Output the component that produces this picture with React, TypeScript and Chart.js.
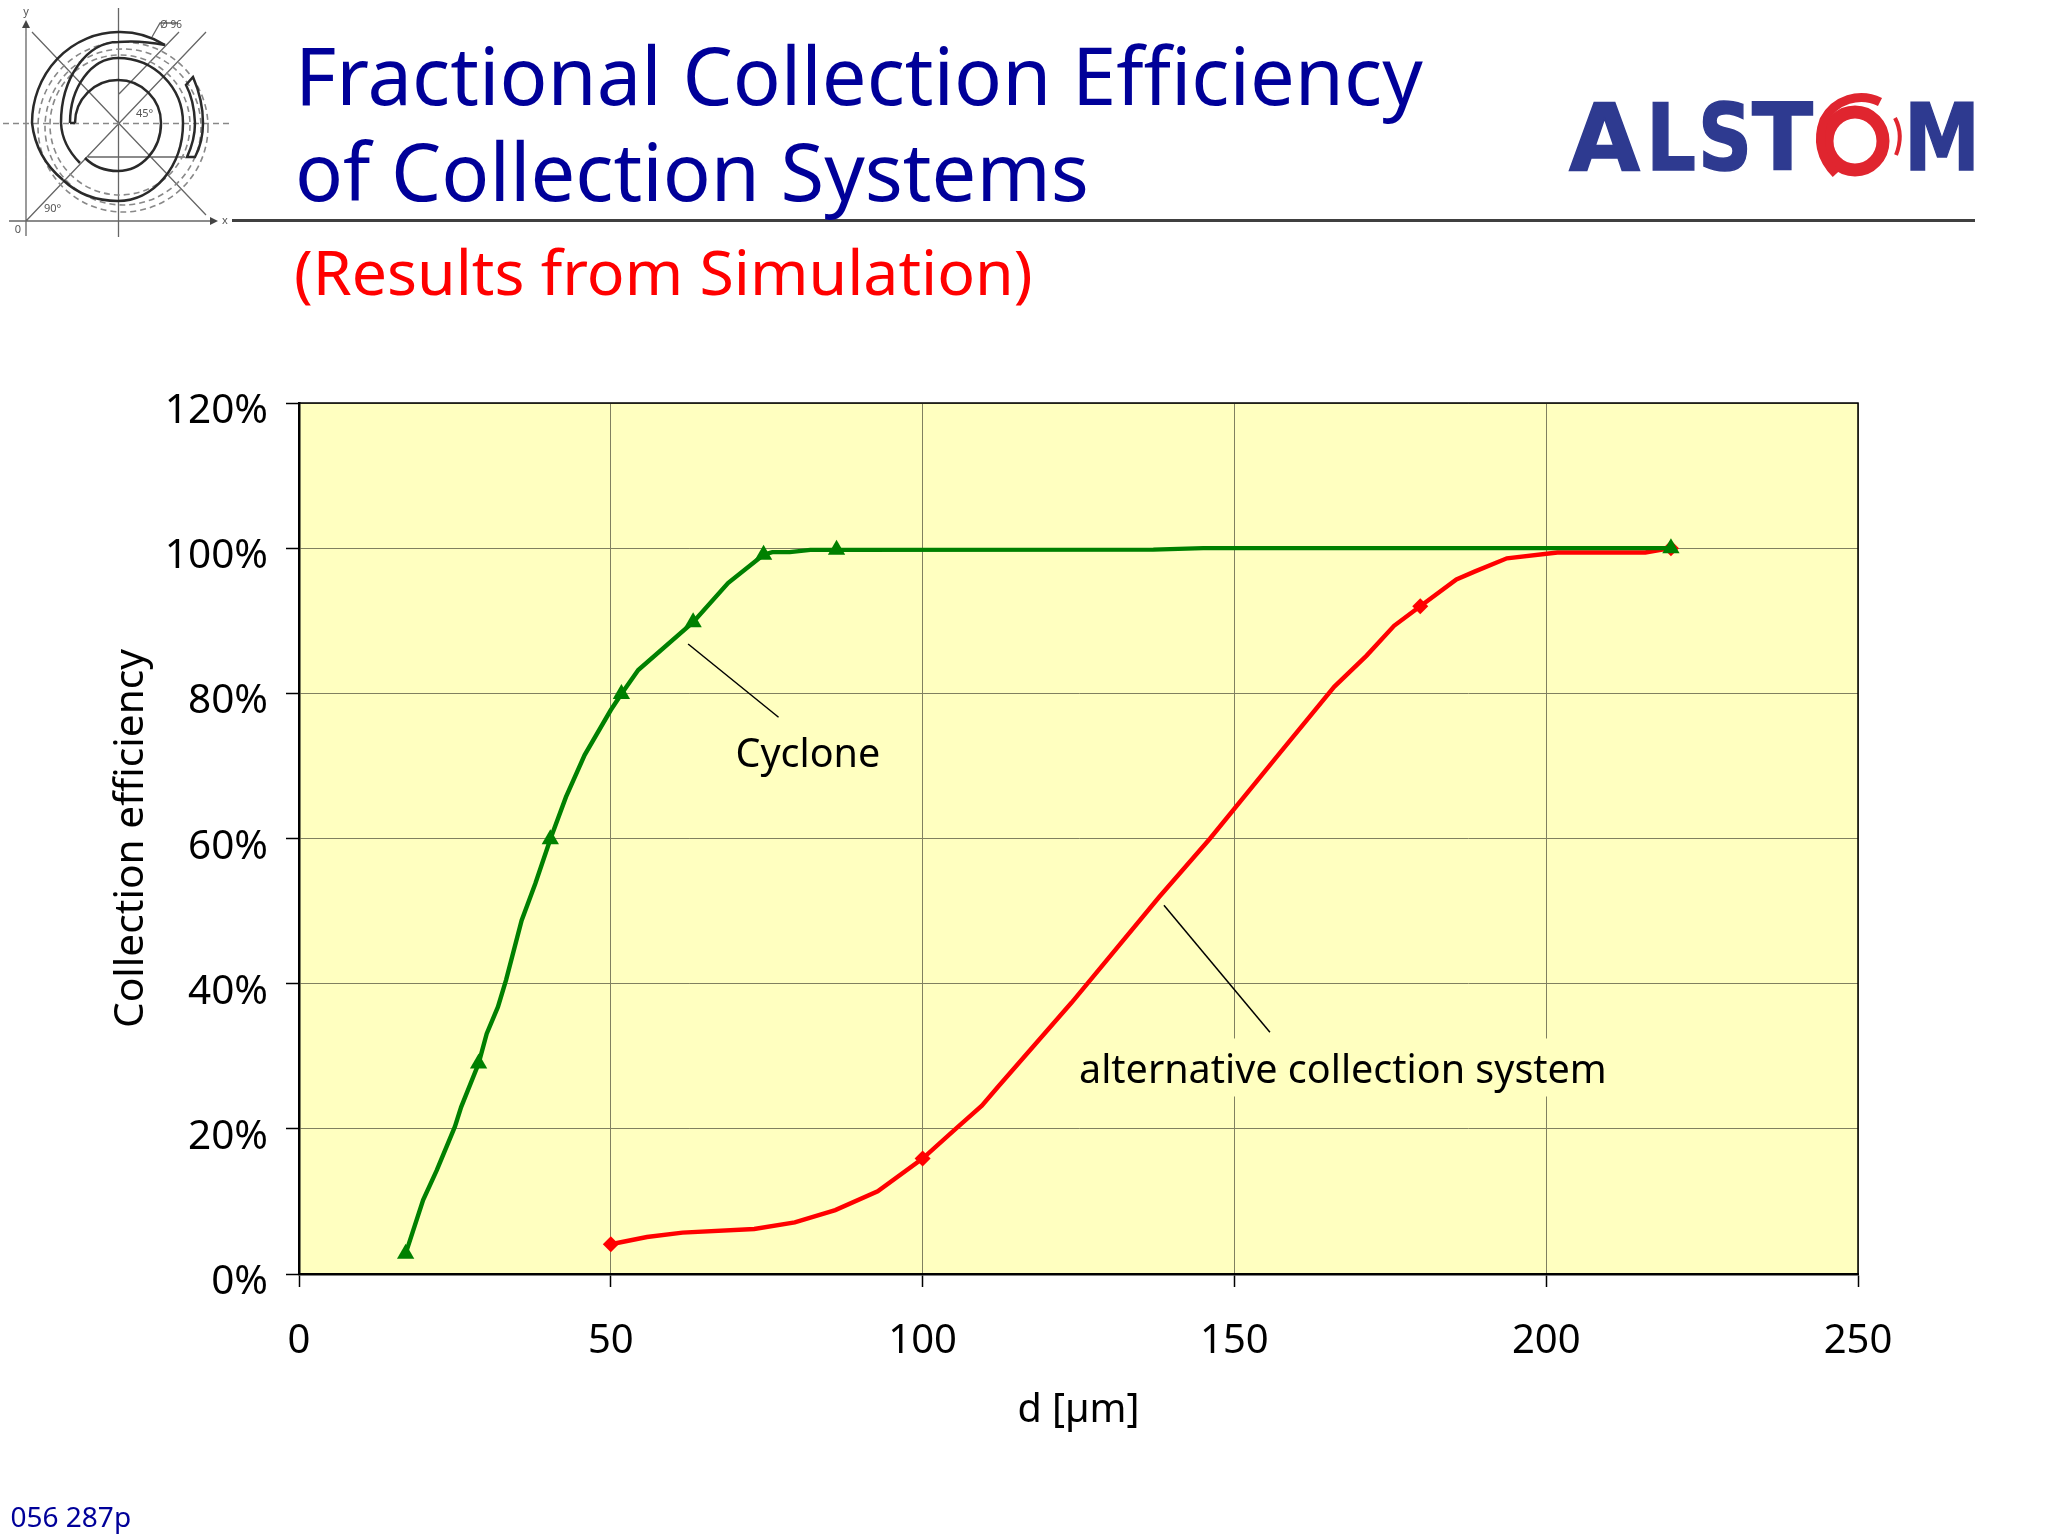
import React, { useEffect, useRef } from "react";
import { Chart, registerables } from "chart.js";

Chart.register(...registerables);

const titleLines = ["Fractional Collection Efficiency", "of Collection Systems"];
const subtitleText = "(Results from Simulation)";
const footerText = "056 287p";
const xAxisTitle = "d [µm]";
const yAxisTitle = "Collection efficiency";
const cycloneLabel = "Cyclone";
const alternativeLabel = "alternative collection system";

const cycloneX = [17.1, 19.9, 22.1, 25, 26, 28.8, 30.1, 31.9, 33.2, 35.7, 37.9, 40.3, 42.8, 45.8, 50, 51.7, 54.4, 63.2, 68.8, 74.5, 75.9, 78.7, 82, 86.2, 137, 145, 220];
const cycloneY = [2.8, 10.2, 14.3, 20.3, 23, 29, 33.1, 36.8, 40.5, 48.7, 53.8, 59.9, 65.7, 71.5, 77.7, 79.9, 83.2, 89.8, 95.2, 99.1, 99.45, 99.45, 99.77, 99.77, 99.8, 100, 100];
const cycloneMarkerX = [17.1, 28.8, 40.3, 51.7, 63.2, 74.5, 86.2, 220];
const cycloneMarkerY = [2.8, 29, 59.9, 79.9, 89.8, 99.1, 99.77, 100];

const alternativeX = [50, 55.8, 61.5, 73, 79.5, 86, 92.8, 100, 105.3, 109.5, 112.1, 123.9, 137.9, 146.1, 157.2, 166, 171.2, 175.6, 179.8, 185.6, 188.6, 193.7, 201.8, 215.9, 220];
const alternativeY = [4.1, 5.1, 5.7, 6.2, 7.1, 8.8, 11.4, 15.9, 20, 23.2, 25.8, 37.4, 51.9, 60, 71.7, 80.9, 85.2, 89.3, 92, 95.7, 96.8, 98.6, 99.4, 99.4, 100];
const alternativeMarkerX = [50, 100, 179.8, 220];
const alternativeMarkerY = [4.1, 15.9, 92, 100];

const cycloneLeaderX = [62.4, 76.9];
const cycloneLeaderY = [86.8, 76.7];
const alternativeLeaderX = [138.7, 155.7];
const alternativeLeaderY = [50.8, 33.3];

const cycloneLabelAt = [81.6, 71.35];
const alternativeLabelAt = [167.4, 27.9];

const FONT = '"Noto Sans"';
const NAVY = "#000099";
const GREEN = "#008000";
const RED = "#ff0000";
const PLOT_BG = "#ffffc0";

const pairs = (xs: number[], ys: number[]) => xs.map((x, i) => ({ x, y: ys[i] }));

const slidePlugin = {
  id: "slide",
  beforeDraw(chart: any) {
    const { ctx, chartArea: a } = chart;
    ctx.save();
    ctx.fillStyle = "#ffffff";
    ctx.fillRect(0, 0, chart.width, chart.height);
    ctx.fillStyle = PLOT_BG;
    ctx.fillRect(a.left, a.top, a.right - a.left, a.bottom - a.top);
    ctx.restore();
  },
  afterDraw(chart: any) {
    const { ctx, chartArea: a, scales } = chart;
    ctx.save();
    ctx.strokeStyle = "#000000";
    ctx.lineWidth = 1.5;
    ctx.beginPath();
    ctx.moveTo(a.left, a.top);
    ctx.lineTo(a.right, a.top);
    ctx.lineTo(a.right, a.bottom);
    ctx.stroke();

    ctx.strokeStyle = "#404040";
    ctx.lineWidth = 3;
    ctx.beginPath();
    ctx.moveTo(232, 220.5);
    ctx.lineTo(1975, 220.5);
    ctx.stroke();

    ctx.textAlign = "left";
    ctx.textBaseline = "alphabetic";
    ctx.fillStyle = NAVY;
    ctx.font = `79.5px ${FONT}`;
    ctx.fillText(titleLines[0], 295, 105);
    ctx.fillText(titleLines[1], 295, 201);
    ctx.fillStyle = RED;
    ctx.font = `62.6px ${FONT}`;
    ctx.fillText(subtitleText, 294, 295);
    ctx.fillStyle = NAVY;
    ctx.font = `28px ${FONT}`;
    ctx.fillText(footerText, 10.5, 1527);

    ctx.font = `39.5px ${FONT}`;
    ctx.textAlign = "center";
    ctx.textBaseline = "middle";
    const ax = scales.x.getPixelForValue(alternativeLabelAt[0]);
    const ay = scales.y.getPixelForValue(alternativeLabelAt[1]);
    ctx.fillStyle = PLOT_BG;
    ctx.fillRect(ax - 270, ay - 33, 540, 58);
    ctx.fillStyle = "#000000";
    ctx.fillText(alternativeLabel, ax, ay);
    ctx.fillText(
      cycloneLabel,
      scales.x.getPixelForValue(cycloneLabelAt[0]),
      scales.y.getPixelForValue(cycloneLabelAt[1])
    );
    ctx.restore();
  },
};

function Blueprint() {
  const solid = { fill: "none", stroke: "#2a2a2a", strokeWidth: 2.5 };
  const thin = { stroke: "#666", strokeWidth: 1.3, fill: "none" };
  const dash = { fill: "none", stroke: "#888", strokeWidth: 1.6, strokeDasharray: "6 4" };
  return (
    <svg width={240} height={240} style={{ position: "absolute", left: 0, top: 0 }}>
      <path d="M26 22V236M9 221H214M118.5 8V237M32 32L206 215M26 221L206 32M119 94L179 32M88 157H185M152 37L160 23H178" {...thin} />
      <path d="M3 123.5H232" fill="none" stroke="#888" strokeWidth={1.3} strokeDasharray="6 4" />
      <path d="M26 20l-4 8h8zM218 221l-8-4v8z" fill="#444" />
      <circle cx={123} cy={127} r={78} {...dash} />
      <circle cx={123} cy={127} r={85} {...dash} />
      <circle cx={120} cy={125} r={70} {...dash} />
      <path d="M63 180A87 87 0 0 1 32 123A87 91 0 0 1 118.5 32A87 91 0 0 1 165 45" {...solid} />
      <path d="M165 45Q140 40 118 42A57 81 0 0 0 61 123Q62 145 80 163" {...solid} />
      <path d="M70 123A48 65 0 0 1 118 58A65 65 0 0 1 183 123A65 78 0 0 1 118 201Q85 201 63 180" {...solid} />
      <path d="M75 123A43 43 0 0 1 118 80A43 43 0 0 1 161 123A43 48 0 0 1 118 171Q98 171 85 158" {...solid} />
      <path d="M70 123H75M193 77Q203 100 203 123Q203 142 195 157H187Q195 140 195 123Q194 100 186 85Z" {...solid} />
      <text x={26} y={15} fontSize={11} fill="#555" fontFamily={FONT} textAnchor="middle">y</text>
      <text x={225} y={224} fontSize={11} fill="#555" fontFamily={FONT} textAnchor="middle">x</text>
      <text x={18} y={233} fontSize={11} fill="#555" fontFamily={FONT} textAnchor="middle">0</text>
      <text x={136} y={117} fontSize={11} fill="#555" fontFamily={FONT}>45°</text>
      <text x={44} y={212} fontSize={11} fill="#555" fontFamily={FONT}>90°</text>
      <text x={160} y={28} fontSize={10} fill="#555" fontFamily={FONT}>Ø 96</text>
    </svg>
  );
}

function Logo() {
  const blue = "#2e3a90";
  const letters: [string, number, number][] = [
    ["A", 1569, 71],
    ["L", 1646, 50],
    ["S", 1698, 54],
    ["T", 1752, 61],
    ["M", 1904, 76],
  ];
  return (
    <svg width={2048} height={240} style={{ position: "absolute", left: 0, top: 0, pointerEvents: "none" }}>
      {letters.map(([c, x, w]) => (
        <text key={c} x={x} y={170} fontFamily="DejaVu Sans" fontWeight="bold" fontSize={93} fill={blue} stroke={blue} strokeWidth={1.5} textLength={w} lengthAdjust="spacingAndGlyphs">
          {c}
        </text>
      ))}
      <ellipse cx={1855} cy={141} rx={28} ry={29} fill="none" stroke="#e0252f" strokeWidth={13} />
      <path d="M1880 102A42 42 0 0 0 1824 120Q1813 150 1836 174" fill="none" stroke="#e0252f" strokeWidth={9} />
      <path d="M1895 118Q1904 135 1896 155" fill="none" stroke="#e0252f" strokeWidth={4} />
    </svg>
  );
}

export default function App() {
  const ref = useRef<HTMLCanvasElement | null>(null);
  useEffect(() => {
    document.body.style.margin = "0";
    const line = (data: any[], color: string, width: number) => ({
      data,
      showLine: true,
      borderColor: color,
      backgroundColor: color,
      borderWidth: width,
      pointRadius: 0,
      tension: 0,
    });
    const markers = (data: any[], color: string, style: string, radius: number) => ({
      data,
      showLine: false,
      borderColor: color,
      backgroundColor: color,
      pointStyle: style,
      pointRadius: radius,
      pointBorderWidth: 0,
    });
    const chart = new Chart(ref.current as HTMLCanvasElement, {
      type: "scatter",
      data: {
        datasets: [
          markers(pairs(cycloneMarkerX, cycloneMarkerY), GREEN, "triangle", 10),
          line(pairs(cycloneX, cycloneY), GREEN, 4.4),
          markers(pairs(alternativeMarkerX, alternativeMarkerY), RED, "rectRot", 8),
          line(pairs(alternativeX, alternativeY), RED, 4.4),
          line(pairs(cycloneLeaderX, cycloneLeaderY), "#000000", 1.5),
          line(pairs(alternativeLeaderX, alternativeLeaderY), "#000000", 1.5),
        ] as any,
      },
      plugins: [slidePlugin],
      options: {
        animation: false,
        responsive: false,
        devicePixelRatio: 1,
        layout: { padding: { left: 100, top: 403, right: 190, bottom: 102 } },
        plugins: { legend: { display: false }, tooltip: { enabled: false }, title: { display: false } },
        scales: {
          x: {
            type: "linear",
            min: 0,
            max: 250,
            afterFit: (s: any) => {
              s.height = 160;
            },
            ticks: {
              stepSize: 50,
              maxRotation: 0,
              padding: 31,
              color: "#000000",
              font: { family: FONT, size: 40 },
            },
            grid: { color: "#808060", lineWidth: 1, tickColor: "#000000", tickLength: 13, tickWidth: 1.5 },
            border: { color: "#000000", width: 2.5 },
            title: { display: true, text: xAxisTitle, color: "#000000", font: { family: FONT, size: 39.5 }, padding: 0 },
          },
          y: {
            min: 0,
            max: 120,
            afterFit: (s: any) => {
              s.width = 199;
            },
            ticks: {
              stepSize: 20,
              padding: 18,
              labelOffset: 8.5,
              color: "#000000",
              font: { family: FONT, size: 40.5 },
              callback: (v: any) => `${v}%`,
            },
            grid: { color: "#808060", lineWidth: 1, tickColor: "#000000", tickLength: 13, tickWidth: 1.5 },
            border: { color: "#000000", width: 2.5 },
            title: { display: true, text: yAxisTitle, color: "#000000", font: { family: FONT, size: 40.7 }, padding: 6.5 },
          },
        },
      },
    } as any);
    return () => chart.destroy();
  }, []);
  return (
    <div style={{ position: "relative", width: 2048, height: 1536, overflow: "hidden", background: "#fff" }}>
      <canvas ref={ref} width={2048} height={1536} style={{ position: "absolute", left: 0, top: 0, width: 2048, height: 1536 }} />
      <Blueprint />
      <Logo />
    </div>
  );
}
